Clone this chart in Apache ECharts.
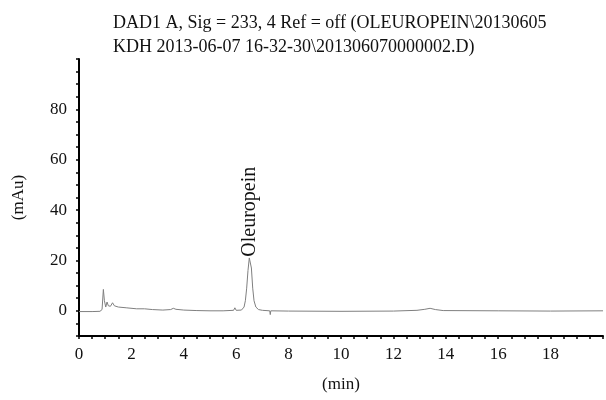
<!DOCTYPE html>
<html>
<head>
<meta charset="utf-8">
<script src="https://cdn.jsdelivr.net/npm/echarts@6/dist/echarts.min.js"></script>
<style>
  html, body { margin: 0; padding: 0; background: #fff; }
  #chart { width: 606px; height: 400px; }
</style>
</head>
<body>
<div id="chart"></div>
<script>
// retention time (min) and absorbance (mAu)
const times = [0, 0.5, 0.8, 0.88, 0.93, 0.97, 1.02, 1.07, 1.12, 1.2, 1.28, 1.35, 1.5, 1.8, 2.2, 2.5, 2.8, 3.2, 3.5, 3.6, 3.7, 4.0, 4.5, 5.0, 5.5, 5.9, 5.95, 6.0, 6.2, 6.3, 6.35, 6.4, 6.45, 6.5, 6.53, 6.58, 6.63, 6.68, 6.75, 6.85, 7.0, 7.28, 7.3, 7.32, 8, 10, 12, 12.9, 13.2, 13.4, 13.6, 13.9, 16, 18, 20];
const mau   = [-0.3, -0.3, -0.2, 0.5, 8.5, 4, 1.5, 3.5, 2, 1.8, 3.2, 2, 1.5, 1.2, 0.8, 0.8, 0.5, 0.3, 0.5, 1, 0.6, 0.3, 0.1, 0, 0, 0.2, 1.2, 0.2, 0.3, 1.5, 4, 9, 16, 21, 21.5, 17, 9, 4, 1.5, 0.5, 0.2, 0, -1.5, 0, -0.1, -0.2, -0.1, 0.2, 0.6, 1.0, 0.5, 0.1, 0, -0.1, 0];
const peakName = 'Oleuropein';
const peakAt = [6.5, 21.5];
const titleLines = ['DAD1 A, Sig = 233, 4 Ref = off (OLEUROPEIN\\20130605', 'KDH 2013-06-07 16-32-30\\201306070000002.D)'];

const font = 'Liberation Serif';
const chart = echarts.init(document.getElementById('chart'));

chart.setOption({
  animation: false,
  title: {
    text: titleLines.join('\n'),
    left: 108, top: 6,
    textStyle: { fontFamily: font, fontSize: 18, fontWeight: 'normal', color: '#111', lineHeight: 24 }
  },
  grid: { left: 79, right: 3, top: 59, bottom: 64 },
  xAxis: {
    type: 'value', min: 0, max: 20, interval: 0.5,
    name: '(min)', nameLocation: 'middle', nameGap: 40,
    nameTextStyle: { fontFamily: font, fontSize: 17, color: '#111' },
    axisLine: { onZero: false, lineStyle: { color: '#000', width: 2 } },
    axisTick: { length: 3, lineStyle: { color: '#000', width: 1.5 } },
    axisLabel: {
      fontFamily: font, fontSize: 17, color: '#111', margin: 10,
      formatter: v => (Math.abs(v % 2) < 1e-9 && v < 20) ? String(v) : ''
    },
    splitLine: { show: false }
  },
  yAxis: {
    type: 'value', min: -10, max: 100, interval: 5,
    name: '(mAu)', nameLocation: 'middle', nameGap: 52, nameRotate: 90,
    nameTextStyle: { fontFamily: font, fontSize: 17, color: '#111' },
    axisLine: { show: true, onZero: false, lineStyle: { color: '#000', width: 2 } },
    axisTick: { show: true, length: 3, lineStyle: { color: '#000', width: 1.5 } },
    axisLabel: {
      fontFamily: font, fontSize: 17, color: '#111', margin: 12,
      formatter: v => (v % 20 === 0 && v >= 0 && v < 100) ? String(v) : ''
    },
    splitLine: { show: false }
  },
  series: [{
    type: 'line',
    data: times.map((t, i) => [t, mau[i]]),
    showSymbol: false,
    lineStyle: { color: '#7f7f7f', width: 1 },
    markPoint: {
      symbol: 'circle', symbolSize: 0,
      data: [{ coord: peakAt }],
      label: {
        show: true, formatter: peakName, rotate: 90, position: 'top',
        align: 'left', verticalAlign: 'middle', distance: 3, offset: [-3, 0],
        fontFamily: font, fontSize: 20, color: '#111'
      }
    }
  }]
});
</script>
</body>
</html>
